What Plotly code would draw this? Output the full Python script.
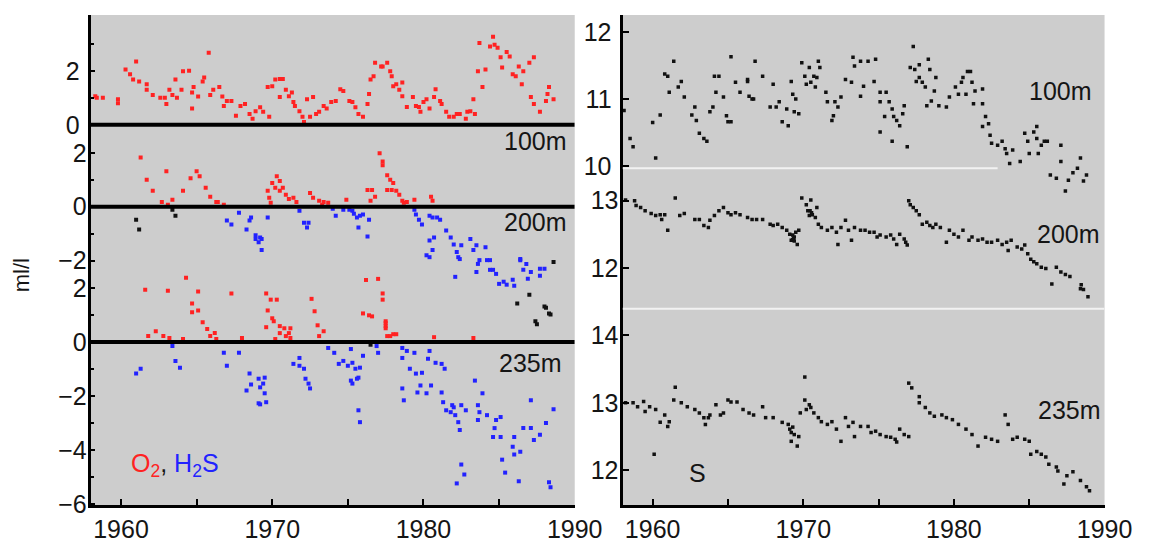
import plotly.graph_objects as go

# ---------------- data (year, value) ----------------
o2_100 = [(1958.3,1.06),(1958.4,1.0),(1958.8,1.0),(1959.8,0.95),(1959.8,0.8),(1960.3,2.05),(1960.6,1.87),(1961.0,2.35),(1960.8,1.68),(1961.2,1.6),(1961.7,1.5),(1961.7,1.3),(1962.1,1.1),(1962.6,1.0),(1962.9,1.0),(1963.0,0.77),(1963.2,1.3),(1963.4,1.1),(1963.7,1.0),(1963.6,1.68),(1964.0,1.3),(1964.1,1.98),(1964.5,2.0),(1964.7,1.2),(1964.7,0.6),(1964.8,1.4),(1965.1,1.05),(1965.4,1.6),(1965.5,1.75),(1965.8,2.67),(1965.9,1.1),(1966.1,1.3),(1966.5,1.4),(1966.7,1.05),(1966.8,0.7),(1967.0,0.88),(1967.3,0.88),(1967.6,0.33),(1967.9,0.7),(1968.2,0.77),(1968.5,0.4),(1968.7,0.22),(1968.9,0.5),(1969.2,0.65),(1969.4,0.48),(1969.7,1.4),(1969.8,0.3),(1970.0,1.43),(1970.2,1.68),(1970.5,1.03),(1970.5,1.7),(1970.7,1.7),(1970.9,1.3),(1971.1,1.06),(1971.3,1.2),(1971.4,0.84),(1971.5,0.7),(1971.8,0.5),(1972.0,0.3),(1972.1,0.1),(1972.3,0.95),(1972.5,0.3),(1972.7,1.03),(1972.9,0.4),(1973.1,0.48),(1973.4,0.7),(1973.6,0.6),(1973.9,0.84),(1974.2,0.88),(1974.5,1.32),(1974.7,1.25),(1975.1,0.88),(1975.3,0.84),(1975.5,0.65),(1975.7,0.4),(1976.0,0.3),(1976.3,0.77),(1976.4,1.14),(1976.5,1.68),(1976.7,1.8),(1976.8,2.3),(1977.2,2.16),(1977.3,2.16),(1977.6,2.3),(1977.8,1.98),(1977.9,1.8),(1978.0,1.43),(1978.2,1.5),(1978.4,1.3),(1978.6,1.06),(1978.6,1.57),(1978.9,0.66),(1979.3,1.03),(1979.5,0.7),(1979.7,0.66),(1979.8,0.48),(1980.0,0.84),(1980.2,0.95),(1980.4,0.6),(1980.7,1.03),(1980.8,1.32),(1981.1,0.88),(1981.2,0.77),(1981.5,0.48),(1981.7,0.3),(1982.0,0.3),(1982.2,0.4),(1982.4,0.4),(1982.8,0.22),(1982.9,0.48),(1983.1,0.5),(1983.3,0.95),(1983.4,0.4),(1983.6,1.98),(1983.7,3.03),(1983.9,1.4),(1984.1,2.05),(1984.4,2.9),(1984.6,3.26),(1984.7,2.97),(1984.9,2.86),(1985.1,2.5),(1985.2,2.12),(1985.5,2.7),(1985.7,2.53),(1985.9,1.87),(1986.1,1.8),(1986.3,2.16),(1986.5,1.5),(1986.6,1.98),(1987.0,2.3),(1987.3,2.5),(1987.1,1.03),(1987.3,0.77),(1987.7,0.48),(1988.1,0.88),(1988.3,1.4),(1988.2,1.14),(1988.6,0.95)]

o2_200 = [(1961.3,1.83),(1961.7,1.0),(1962.1,0.59),(1962.7,0.18),(1963.0,1.32),(1963.1,0.07),(1963.4,0.26),(1964.1,0.59),(1964.6,1.06),(1965.0,1.32),(1965.2,1.13),(1965.6,0.7),(1965.9,0.37),(1966.3,0.18),(1966.4,0.18),(1966.8,0.07),(1969.7,0.59),(1969.8,0.33),(1969.9,0.15),(1970.0,0.88),(1970.2,0.7),(1970.3,1.13),(1970.5,0.59),(1970.5,0.95),(1970.7,0.7),(1970.9,0.44),(1971.1,0.29),(1971.4,0.33),(1971.6,0.18),(1972.5,0.51),(1972.7,0.33),(1973.1,0.22),(1973.3,0.07),(1973.4,0.18),(1973.7,0.15),(1974.9,0.26),(1976.3,0.62),(1976.5,0.22),(1976.8,0.37),(1976.6,0.62),(1977.1,1.98),(1977.3,1.68),(1977.3,1.54),(1977.6,1.17),(1977.6,0.62),(1977.8,1.0),(1978.0,0.88),(1977.9,0.62),(1978.2,0.59),(1978.4,0.44),(1978.6,0.22),(1978.7,0.15),(1978.9,0.18),(1979.4,0.26),(1980.5,0.37),(1980.6,0.22)]

h2s_200 = [(1967.0,-0.51),(1967.3,-0.66),(1967.8,-0.22),(1968.3,-0.84),(1968.5,-0.51),(1968.6,-0.4),(1968.9,-1.06),(1968.9,-1.2),(1969.1,-1.32),(1969.2,-1.14),(1969.3,-1.2),(1969.3,-1.6),(1969.7,-0.4),(1971.8,-0.15),(1972.1,-0.59),(1972.3,-0.77),(1972.4,-0.59),(1974.0,-0.07),(1974.2,-0.33),(1974.7,-0.11),(1975.1,-0.11),(1975.3,-0.15),(1975.4,-0.26),(1975.6,-0.4),(1975.7,-0.77),(1975.8,-0.33),(1976.0,-0.29),(1976.3,-1.1),(1976.4,-0.48),(1979.4,-0.11),(1979.5,-0.29),(1979.7,-0.48),(1979.9,-0.66),(1980.4,-0.33),(1980.6,-0.4),(1980.9,-0.4),(1981.1,-0.48),(1980.4,-1.25),(1980.7,-1.14),(1980.2,-1.8),(1980.6,-1.6),(1981.5,-0.88),(1981.8,-1.14),(1982.0,-1.4),(1982.2,-1.68),(1982.3,-1.87),(1982.5,-1.43),(1983.1,-1.2),(1983.5,-1.43),(1983.7,-1.98),(1983.3,-1.6),(1984.1,-1.5),(1984.4,-1.98),(1984.6,-2.34),(1986.4,-1.94),(1986.8,-2.12),(1987.1,-2.42),(1987.7,-2.3),(1980.4,-1.87),(1982.4,-1.94),(1983.6,-2.12),(1983.5,-2.42),(1984.2,-1.98),(1984.4,-2.34),(1984.8,-2.49),(1985.0,-2.86),(1985.3,-2.78),(1985.5,-2.89),(1985.9,-2.71),(1986.0,-2.93),(1986.4,-1.98),(1986.6,-2.34),(1986.9,-2.67),(1987.7,-2.56),(1988.0,-2.3),(1982.1,-2.6)]

black_200 = [(1961.0,-0.48),(1961.2,-0.84),(1963.6,-0.33),(1963.4,-0.11),(1988.6,-2.05),(1987.0,-3.26),(1986.2,-3.59),(1987.4,-4.25),(1987.5,-4.36),(1988.0,-3.7),(1988.1,-3.75),(1988.3,-3.96),(1988.4,-4.0)]

o2_235 = [(1961.6,1.94),(1961.8,0.22),(1962.3,0.4),(1962.8,0.22),(1963.1,1.9),(1963.2,0.15),(1964.1,0.11),(1964.3,2.38),(1964.7,1.43),(1964.7,1.1),(1965.1,1.87),(1965.1,1.17),(1965.4,0.73),(1965.7,0.48),(1965.9,0.22),(1966.2,0.33),(1966.3,0.11),(1967.3,1.8),(1968.0,0.15),(1969.6,1.8),(1969.6,0.55),(1969.7,1.17),(1969.9,1.57),(1970.0,0.88),(1970.1,0.77),(1970.2,0.11),(1970.3,1.57),(1970.5,0.59),(1970.5,0.33),(1970.8,0.51),(1970.9,0.22),(1971.1,0.33),(1971.2,0.51),(1971.2,0.15),(1972.6,1.6),(1972.8,1.14),(1973.0,0.62),(1973.1,0.22),(1973.4,0.4),(1976.0,1.06),(1976.2,2.3),(1976.4,0.99),(1976.6,0.95),(1977.0,2.34),(1977.3,1.8),(1977.3,1.57),(1977.5,0.77),(1977.5,0.59),(1977.5,0.7),(1977.5,0.51),(1977.6,0.22),(1977.8,0.22),(1978.0,0.29),(1978.2,0.29),(1980.7,0.18),(1983.3,0.15)]

h2s_235 = [(1961.0,-1.17),(1961.3,-0.99),(1963.4,-0.15),(1963.6,-0.7),(1963.9,-0.95),(1966.8,-0.4),(1967.0,-0.88),(1967.8,-0.4),(1968.5,-1.17),(1968.6,-1.57),(1968.3,-1.8),(1969.1,-1.36),(1969.2,-1.68),(1969.1,-2.27),(1969.2,-2.31),(1969.5,-1.32),(1969.4,-1.54),(1969.5,-1.9),(1969.6,-2.23),(1971.4,-0.81),(1971.8,-0.59),(1971.8,-0.88),(1972.1,-0.99),(1972.2,-1.36),(1972.4,-1.54),(1972.5,-1.72),(1973.7,-0.22),(1974.1,-0.4),(1974.4,-0.81),(1974.7,-0.7),(1975.0,-0.88),(1975.2,-0.26),(1975.3,-0.77),(1975.2,-1.43),(1975.3,-1.54),(1975.5,-0.99),(1975.6,-1.36),(1975.7,-1.32),(1975.8,-0.95),(1976.0,-0.51),(1975.7,-2.53),(1975.8,-2.97),(1976.9,-0.15),(1977.0,-0.4),(1978.6,-0.22),(1978.6,-0.59),(1978.9,-0.33),(1979.1,-0.99),(1979.4,-0.4),(1979.5,-1.17),(1979.9,-1.14),(1980.3,-0.62),(1980.4,-0.33),(1980.8,-0.77),(1981.2,-0.81),(1981.4,-0.99),(1978.6,-1.72),(1978.7,-2.16),(1979.6,-1.87),(1979.8,-1.61),(1980.2,-1.9),(1980.5,-1.61),(1981.2,-1.87),(1981.3,-2.23),(1981.5,-2.53),(1981.8,-2.6),(1981.9,-2.34),(1982.0,-2.42),(1982.1,-2.71),(1982.3,-2.97),(1982.4,-3.26),(1982.5,-2.34),(1982.8,-2.53),(1983.4,-1.43),(1983.9,-1.9),(1983.6,-2.34),(1983.7,-2.6),(1983.6,-2.89),(1984.2,-2.71),(1984.8,-2.89),(1984.7,-3.19),(1984.6,-3.52),(1985.1,-2.78),(1985.1,-3.52),(1986.0,-3.52),(1985.9,-3.88),(1986.0,-4.17),(1986.4,-4.07),(1986.6,-3.19),(1987.1,-3.19),(1987.3,-3.63),(1987.7,-3.44),(1988.1,-3.0),(1988.6,-2.49),(1987.1,-2.16),(1985.2,-4.36),(1985.4,-4.84),(1986.3,-5.16),(1982.5,-4.54),(1982.7,-4.91),(1982.2,-5.24),(1988.3,-5.2),(1988.4,-5.38)]

black_235 = [(1976.5,-0.1)]

s_100 = [(1958.1,10.83),(1958.5,10.41),(1958.7,10.29),(1960.0,10.65),(1960.2,10.12),(1960.5,10.76),(1960.8,11.37),(1961.0,11.34),(1961.1,11.1),(1961.4,11.56),(1961.7,11.18),(1961.9,11.26),(1962.1,11.03),(1962.6,10.76),(1962.8,10.88),(1962.9,10.68),(1963.1,10.49),(1963.4,10.41),(1963.6,10.37),(1963.8,10.81),(1964.0,10.88),(1964.1,11.34),(1964.4,11.34),(1964.2,11.1),(1964.7,11.03),(1964.9,10.75),(1965.0,10.66),(1965.2,10.66),(1965.2,11.63),(1965.5,11.25),(1965.8,11.1),(1966.3,11.26),(1966.4,11.04),(1966.6,11.0),(1966.8,11.56),(1966.3,11.29),(1966.7,11.0),(1967.3,11.34),(1968.0,11.22),(1967.8,10.88),(1968.2,10.88),(1968.4,10.96),(1968.6,10.66),(1969.0,10.6),(1968.9,10.85),(1969.2,11.26),(1969.3,11.07),(1969.5,11.0),(1969.7,10.78),(1969.4,10.81),(1969.9,11.54),(1970.1,11.34),(1970.2,11.22),(1970.4,11.47),(1970.5,11.25),(1970.7,11.34),(1970.9,11.32),(1971.0,11.56),(1971.1,11.47),(1970.8,11.18),(1971.5,11.1),(1971.6,10.96),(1971.9,10.68),(1972.1,10.96),(1972.3,10.88),(1972.5,11.03),(1972.0,10.75),(1972.8,11.29),(1973.2,11.25),(1973.3,11.62),(1973.4,11.49),(1973.8,11.56),(1973.8,11.04),(1974.0,11.19),(1974.3,11.56),(1974.8,11.59),(1974.7,11.26),(1975.1,11.1),(1975.1,10.96),(1975.5,11.1),(1975.4,10.74),(1975.7,10.96),(1975.9,10.85),(1976.0,10.74),(1976.2,10.68),(1976.4,10.6),(1976.6,10.78),(1976.7,10.9),(1975.1,10.51),(1975.9,10.37),(1976.9,10.29),(1977.3,11.78),(1977.1,11.47),(1977.4,11.44),(1977.7,11.51),(1977.7,11.32),(1977.5,11.26),(1977.9,11.25),(1978.1,11.18),(1978.3,11.59),(1978.4,11.44),(1978.8,11.32),(1978.7,11.12),(1978.2,10.9),(1978.5,10.97),(1979.0,10.9),(1979.5,10.88),(1979.7,11.03),(1980.1,11.18),(1980.3,11.07),(1980.5,11.25),(1980.6,11.32),(1980.8,11.07),(1980.9,11.41),(1981.1,11.41),(1981.2,11.25),(1981.4,11.12),(1981.9,11.15),(1981.9,10.93),(1981.3,10.93),(1982.1,10.74),(1982.3,10.63),(1981.9,10.59),(1982.4,10.46),(1982.5,10.34),(1982.9,10.31),(1983.2,10.37),(1983.4,10.26),(1983.5,10.19),(1983.7,10.04),(1983.9,10.24),(1984.4,10.07),(1984.7,10.49),(1984.9,10.37),(1985.0,10.19),(1985.3,10.51),(1985.5,10.59),(1985.5,10.41),(1985.8,10.31),(1986.0,10.37),(1986.2,10.37),(1985.6,10.19),(1987.1,10.31),(1987.1,10.07),(1986.4,9.87),(1986.8,9.82),(1987.4,9.63),(1987.6,9.79),(1987.9,9.9),(1988.2,9.97),(1988.4,10.12),(1988.6,9.78),(1988.8,9.87)]

s_200 = [(1958.2,13.01),(1958.8,13.0),(1958.9,12.93),(1959.2,12.9),(1959.5,12.85),(1959.9,12.81),(1960.2,12.78),(1960.5,12.79),(1960.6,12.72),(1960.8,12.79),(1961.0,12.56),(1961.5,13.04),(1961.8,12.78),(1962.1,12.81),(1962.8,12.72),(1963.1,12.72),(1963.4,12.63),(1963.7,12.6),(1963.8,12.71),(1964.1,12.78),(1964.4,12.85),(1964.7,12.9),(1965.0,12.82),(1965.2,12.79),(1965.5,12.82),(1965.8,12.79),(1966.3,12.75),(1966.6,12.72),(1966.9,12.72),(1967.3,12.72),(1967.8,12.65),(1968.0,12.63),(1968.3,12.65),(1968.6,12.6),(1968.9,12.56),(1969.1,12.5),(1969.3,12.49),(1969.4,12.46),(1969.5,12.53),(1969.6,12.35),(1969.2,12.41),(1969.7,12.56),(1969.3,12.42),(1969.4,12.4),(1969.35,12.44),(1969.9,13.04),(1970.2,12.94),(1970.3,12.85),(1970.4,12.78),(1970.6,12.79),(1970.8,12.75),(1970.9,12.9),(1970.5,13.01),(1970.45,12.85),(1970.55,12.82),(1971.0,12.65),(1971.2,12.6),(1971.6,12.56),(1971.9,12.6),(1972.2,12.53),(1972.3,12.35),(1972.5,12.6),(1972.8,12.71),(1973.0,12.56),(1973.2,12.41),(1973.4,12.6),(1973.8,12.56),(1974.1,12.56),(1974.4,12.53),(1974.7,12.53),(1974.9,12.46),(1975.1,12.49),(1975.5,12.46),(1975.8,12.49),(1976.0,12.43),(1976.2,12.35),(1976.4,12.5),(1976.7,12.43),(1976.9,12.34),(1976.8,12.38),(1977.0,13.0),(1977.1,12.94),(1977.3,12.9),(1977.5,12.85),(1977.7,12.79),(1977.9,12.65),(1978.2,12.68),(1978.4,12.63),(1978.6,12.6),(1978.8,12.65),(1979.1,12.6),(1979.5,12.38),(1979.7,12.56),(1980.0,12.5),(1980.3,12.46),(1980.6,12.56),(1981.0,12.41),(1981.2,12.46),(1981.6,12.41),(1981.9,12.43),(1982.2,12.38),(1982.5,12.38),(1982.9,12.41),(1983.2,12.35),(1983.5,12.38),(1983.6,12.26),(1983.8,12.41),(1984.2,12.31),(1984.5,12.28),(1984.7,12.34),(1984.9,12.21),(1985.1,12.13),(1985.3,12.09),(1985.5,12.06),(1985.8,12.01),(1986.1,11.99),(1986.5,11.76),(1986.8,12.01),(1987.1,11.94),(1987.4,11.9),(1987.7,11.87),(1988.4,11.69),(1988.6,11.68),(1988.9,11.57),(1988.45,11.75)]

s_235 = [(1958.2,13.0),(1958.7,13.0),(1959.0,12.94),(1959.4,13.02),(1959.5,12.87),(1959.8,12.94),(1960.2,12.9),(1960.1,12.24),(1960.5,12.71),(1960.8,12.82),(1961.0,12.65),(1961.1,12.72),(1961.4,13.04),(1961.5,13.23),(1961.9,13.0),(1962.3,12.94),(1962.8,12.9),(1963.1,12.85),(1963.4,12.78),(1963.5,12.68),(1963.7,12.78),(1963.8,12.82),(1964.2,12.97),(1964.5,12.82),(1964.7,12.85),(1965.0,13.04),(1965.2,13.01),(1965.6,13.01),(1966.0,12.9),(1966.4,12.85),(1966.7,12.82),(1967.3,12.94),(1967.5,12.78),(1968.0,12.78),(1968.6,12.71),(1969.0,12.68),(1969.1,12.61),(1969.2,12.56),(1969.3,12.64),(1969.4,12.53),(1969.2,12.43),(1969.6,12.36),(1969.7,12.5),(1969.8,12.85),(1970.1,13.38),(1970.1,13.04),(1970.2,12.9),(1970.4,12.97),(1970.5,12.93),(1970.7,12.85),(1971.0,12.78),(1971.2,12.72),(1971.6,12.68),(1971.9,12.72),(1972.2,12.61),(1972.5,12.43),(1972.8,12.78),(1973.0,12.65),(1973.3,12.71),(1973.4,12.5),(1973.8,12.65),(1974.3,12.65),(1974.5,12.56),(1974.8,12.58),(1975.1,12.53),(1975.5,12.5),(1975.8,12.49),(1976.1,12.46),(1976.2,12.42),(1976.4,12.61),(1976.7,12.53),(1977.0,12.5),(1977.0,13.29),(1977.2,13.22),(1977.7,13.09),(1977.7,13.0),(1978.1,12.93),(1978.4,12.85),(1978.7,12.8),(1979.2,12.82),(1979.5,12.78),(1979.9,12.75),(1980.3,12.68),(1980.8,12.61),(1981.2,12.53),(1981.6,12.36),(1982.1,12.49),(1982.5,12.46),(1982.9,12.43),(1983.4,12.82),(1983.6,12.68),(1983.9,12.46),(1984.2,12.49),(1984.7,12.46),(1985.0,12.43),(1985.1,12.24),(1985.5,12.28),(1985.8,12.24),(1986.1,12.2),(1986.3,12.09),(1986.8,12.05),(1986.9,11.99),(1987.3,11.8),(1987.5,11.92),(1987.9,11.98),(1988.4,11.85),(1988.8,11.76),(1989.0,11.7)]

year_labels = [1960, 1970, 1980, 1990]
year_minor = [1965, 1975, 1985]

RED = "#ff2222"
BLUE = "#2222ff"
BLACK = "#111111"
BG = "#cdcdcd"
FONT = "Liberation Sans, Arial, sans-serif"
TXT = "#151515"

fig = go.Figure()

def add(series, color, xa, ya, size=4):
    fig.add_trace(go.Scatter(
        x=[p[0] for p in series], y=[p[1] for p in series],
        mode="markers", xaxis=xa, yaxis=ya, showlegend=False, hoverinfo="skip",
        marker=dict(symbol="square", size=size, color=color, line=dict(width=0))))

add(o2_100, RED, "x", "y")
add(o2_200, RED, "x", "y2")
add(h2s_200, BLUE, "x", "y2")
add(black_200, BLACK, "x", "y2")
add(o2_235, RED, "x", "y3")
add(h2s_235, BLUE, "x", "y3")
add(black_235, BLACK, "x", "y3")
add(s_100, BLACK, "x2", "y4", 3.5)
add(s_200, BLACK, "x2", "y5", 3.5)
add(s_235, BLACK, "x2", "y6", 3.5)

tickfont = dict(family=FONT, size=25, color=TXT)

xcommon = dict(range=[1958, 1990], tickmode="array", tickvals=year_labels,
               ticktext=[str(v) for v in year_labels],
               showline=True, linewidth=3, linecolor="black", ticks="inside",
               ticklen=6, tickwidth=2, tickcolor="black", showgrid=False,
               zeroline=False, tickfont=tickfont, mirror=False,
               minor=dict(tickmode="array", tickvals=year_minor, ticks="inside",
                          ticklen=6, tickwidth=2, tickcolor="black", showgrid=False))

def yax(rng, vals, minor_vals, overlay=None, anchor="x", line=False, ticklen=4):
    d = dict(range=rng, domain=[0, 1], tickmode="array", tickvals=vals,
             ticktext=[str(v).replace("-", "\u2212") for v in vals],
             showline=line, linewidth=3, linecolor="black", ticks="inside",
             ticklen=ticklen, tickwidth=2, tickcolor="black", showgrid=False,
             zeroline=False, tickfont=tickfont, anchor=anchor, side="left",
             ticklabelstandoff=3)
    if minor_vals:
        d["minor"] = dict(tickmode="array", tickvals=minor_vals, ticks="inside",
                          ticklen=ticklen - 1, tickwidth=2, tickcolor="black", showgrid=False)
    if overlay:
        d["overlaying"] = overlay
    return d

fig.update_layout(
    width=1155, height=543,
    margin=dict(l=0, r=0, t=15, b=32),
    paper_bgcolor="white", plot_bgcolor=BG,
    font=dict(family=FONT, color=TXT),
    xaxis=dict(domain=[93/1155, 589/1155], anchor="y", **xcommon),
    xaxis2=dict(domain=[638/1155, 1132/1155], anchor="y4", **xcommon),
    yaxis=yax([-14.10, 4.07], [0, 2], [1, 3], line=True),
    yaxis2=yax([-11.06, 7.11], [-2, 0, 2], [-1, 1], overlay="y"),
    yaxis3=yax([-6.04, 12.12], [-6, -4, -2, 0, 2], [-5, -3, -1, 1], overlay="y"),
    yaxis4=yax([4.956, 12.25], [10, 11, 12], None, anchor="x2", line=True, ticklen=6),
    yaxis5=yax([8.47, 15.765], [12, 13], None, overlay="y4", anchor="x2", ticklen=6),
    yaxis6=yax([11.489, 18.73], [12, 13, 14], None, overlay="y4", anchor="x2", ticklen=6),
)

# zero lines of the left stacked panels
for ya in ["y", "y2", "y3"]:
    fig.add_shape(type="line", xref="x", yref=ya, x0=1958, x1=1990, y0=0, y1=0,
                  line=dict(color="black", width=4))
# white separators on the right panel
fig.add_shape(type="line", xref="x2", yref="y4", x0=1958, x1=1982.9, y0=9.97, y1=9.97,
              line=dict(color="#f2f2f2", width=2))
fig.add_shape(type="line", xref="x2", yref="y6", x0=1958, x1=1990, y0=14.39, y1=14.39,
              line=dict(color="#f2f2f2", width=2))

lab = dict(family=FONT, size=25, color=TXT)
ann = [
    dict(x=1987.4, y=-0.62, xref="x", yref="y", text="100m"),
    dict(x=1987.4, y=-0.55, xref="x", yref="y2", text="200m"),
    dict(x=1987.1, y=-0.77, xref="x", yref="y3", text="235m"),
    dict(x=1987.1, y=11.12, xref="x2", yref="y4", text="100m"),
    dict(x=1987.6, y=12.5, xref="x2", yref="y5", text="200m"),
    dict(x=1987.7, y=12.9, xref="x2", yref="y6", text="235m"),
    dict(x=1963.0, y=11.96, xref="x2", yref="y6", text="S"),
]
for a in ann:
    fig.add_annotation(showarrow=False, font=lab, **a)

fig.add_annotation(x=1960.5, y=-4.54, xref="x", yref="y3", xanchor="left", showarrow=False,
                   text=f"<span style='color:{RED}'>O<sub>2</sub></span>, "
                        f"<span style='color:{BLUE}'>H<sub>2</sub>S</span>",
                   font=dict(family=FONT, size=25, color=TXT))
fig.add_annotation(x=22/1155, y=(511-278)/496, xref="paper", yref="paper", textangle=-90,
                   xanchor="center", yanchor="middle",
                   showarrow=False, text="ml/l", font=dict(family=FONT, size=22, color=TXT))

fig.write_html("out.html")
